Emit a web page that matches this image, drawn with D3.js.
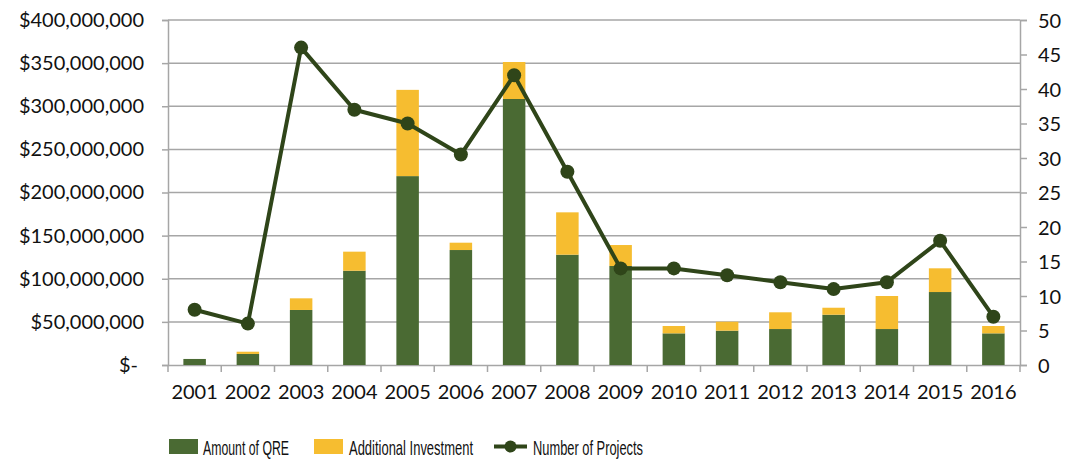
<!DOCTYPE html>
<html>
<head>
<meta charset="utf-8">
<script src="https://cdn.jsdelivr.net/npm/d3@7"></script>
<style>
  body { margin: 0; background: #fff; }
  svg { display: block; font-family: Lato, "Open Sans", sans-serif; }
</style>
</head>
<body>
<svg id="chart"></svg>
<script>
// Config
const width = 1068;
const height = 459;
const margin = { top: 20, right: 48, bottom: 94, left: 168 };

// Data
const years = ["2001", "2002", "2003", "2004", "2005", "2006", "2007", "2008",
  "2009", "2010", "2011", "2012", "2013", "2014", "2015", "2016"];
const qre = [7e6, 12.8e6, 63.8e6, 109.3e6, 219e6, 133.3e6, 308.4e6, 127.9e6,
  114.8e6, 36.7e6, 39.8e6, 41.7e6, 58.3e6, 41.7e6, 84.6e6, 36.7e6];
const additional = [0, 2.6e6, 13.5e6, 22.1e6, 100e6, 8.5e6, 42.9e6, 49.1e6,
  24.3e6, 8.5e6, 10.4e6, 19.4e6, 8.1e6, 38.3e6, 27.5e6, 8.5e6];
const projects = [8, 6, 46, 37, 35, 30.5, 42, 28, 14, 14, 13, 12, 11, 12, 18, 7];
const leftTicks = [0, 50e6, 100e6, 150e6, 200e6, 250e6, 300e6, 350e6, 400e6];
const rightTicks = [0, 5, 10, 15, 20, 25, 30, 35, 40, 45, 50];

const colors = { qre: "#4a6a33", add: "#f6bd30", line: "#2f4519", grid: "#a6a6a6" };

const svg = d3.select("#chart").attr("width", width).attr("height", height);

const x = d3.scaleBand()
  .domain(years)
  .range([margin.left, width - margin.right]);

const y = d3.scaleLinear()
  .domain([0, 400e6])
  .range([height - margin.bottom, margin.top]);

const y2 = d3.scaleLinear()
  .domain([0, 50])
  .range([height - margin.bottom, margin.top]);

const money = d => d === 0 ? "$-" : "$" + d3.format(",")(d);

// gridlines
svg.append("g")
  .selectAll("line")
  .data(leftTicks.slice(1))
  .join("line")
  .attr("x1", margin.left)
  .attr("x2", width - margin.right)
  .attr("y1", d => y(d))
  .attr("y2", d => y(d))
  .attr("stroke", colors.grid)
  .attr("stroke-width", 1.5);

// Left axis
const leftAxis = svg.append("g")
  .attr("transform", `translate(${margin.left},0)`)
  .call(d3.axisLeft(y).tickValues(leftTicks).tickFormat(money).tickSize(6).tickPadding(18));

// Right axis
const rightAxis = svg.append("g")
  .attr("transform", `translate(${width - margin.right},0)`)
  .call(d3.axisRight(y2).tickValues(rightTicks).tickSize(7).tickPadding(11));

// Bottom axis, ticks at band boundaries
const bottom = svg.append("g")
  .attr("transform", `translate(0,${height - margin.bottom})`)
  .call(d3.axisBottom(x).tickSize(0).tickPadding(20));
bottom.selectAll(".sep")
  .data(years.concat(["end"]))
  .join("line")
  .attr("class", "sep")
  .attr("x1", (d, i) => margin.left + i * x.step())
  .attr("x2", (d, i) => margin.left + i * x.step())
  .attr("y1", 0)
  .attr("y2", 7)
  .attr("stroke", colors.grid)
  .attr("stroke-width", 1.5);

[leftAxis, rightAxis, bottom].forEach(g => {
  g.select(".domain").attr("stroke", colors.grid).attr("stroke-width", 1.5);
  g.selectAll(".tick line").attr("stroke", colors.grid).attr("stroke-width", 1.5);
  g.selectAll("text").attr("font-size", 20).attr("fill", "#111").attr("font-family", "Lato, sans-serif");
});
rightAxis.selectAll("text").attr("dy", "0.36em");
// accounting style: "$-" sits a bit further left
leftAxis.selectAll(".tick text").filter(d => d === 0).attr("dx", -6);

// Bars
const barW = 22.5;
const bars = svg.append("g");
bars.selectAll(".qre")
  .data(years)
  .join("rect")
  .attr("class", "qre")
  .attr("x", d => x(d) + x.bandwidth() / 2 - barW / 2)
  .attr("width", barW)
  .attr("y", (d, i) => y(qre[i]))
  .attr("height", (d, i) => y(0) - y(qre[i]))
  .attr("fill", colors.qre);

bars.selectAll(".add")
  .data(years)
  .join("rect")
  .attr("class", "add")
  .attr("x", d => x(d) + x.bandwidth() / 2 - barW / 2)
  .attr("width", barW)
  .attr("y", (d, i) => y(qre[i] + additional[i]))
  .attr("height", (d, i) => y(qre[i]) - y(qre[i] + additional[i]))
  .attr("fill", colors.add);

// Line
const line = d3.line()
  .x((d, i) => x(years[i]) + x.bandwidth() / 2)
  .y(d => y2(d));

svg.append("path")
  .datum(projects)
  .attr("d", line)
  .attr("fill", "none")
  .attr("stroke", colors.line)
  .attr("stroke-width", 4)
  .attr("stroke-linejoin", "round");

svg.append("g")
  .selectAll("circle")
  .data(projects)
  .join("circle")
  .attr("cx", (d, i) => x(years[i]) + x.bandwidth() / 2)
  .attr("cy", d => y2(d))
  .attr("r", 7)
  .attr("fill", colors.line);

// Legend
const legend = svg.append("g").attr("font-family", "'Liberation Sans Narrow', sans-serif").attr("fill", "#111");
legend.append("rect").attr("x", 169).attr("y", 439).attr("width", 29).attr("height", 15).attr("fill", colors.qre);
legend.append("text").attr("x", 203).attr("y", 455).attr("font-size", 21)
  .attr("textLength", 86).attr("lengthAdjust", "spacingAndGlyphs").text("Amount of QRE");
legend.append("rect").attr("x", 314).attr("y", 439).attr("width", 29).attr("height", 15).attr("fill", colors.add);
legend.append("text").attr("x", 349).attr("y", 455).attr("font-size", 21)
  .attr("textLength", 124).attr("lengthAdjust", "spacingAndGlyphs").text("Additional Investment");
legend.append("line").attr("x1", 494).attr("x2", 527).attr("y1", 446.5).attr("y2", 446.5)
  .attr("stroke", colors.line).attr("stroke-width", 4);
legend.append("circle").attr("cx", 510.5).attr("cy", 446.5).attr("r", 6).attr("fill", colors.line);
legend.append("text").attr("x", 533).attr("y", 455).attr("font-size", 21)
  .attr("textLength", 110).attr("lengthAdjust", "spacingAndGlyphs").text("Number of Projects");
</script>
</body>
</html>
